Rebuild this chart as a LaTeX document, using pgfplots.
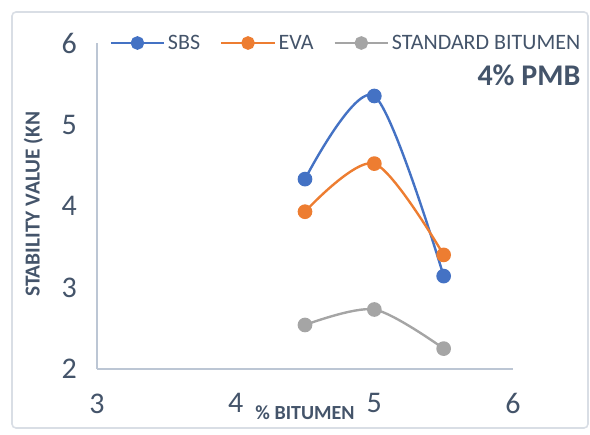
\documentclass[border=0pt]{standalone}
\usepackage{pgfplots}
\pgfplotsset{compat=1.18}
\usepackage{fontspec}
\setmainfont{Carlito}
\definecolor{sbs}{HTML}{4472C4}
\definecolor{eva}{HTML}{ED7D31}
\definecolor{std}{HTML}{A5A5A5}
\definecolor{txt}{HTML}{44546A}
\definecolor{axl}{HTML}{BCC6D4}
\definecolor{frm}{HTML}{D9DEE5}

\begin{document}
\begin{tikzpicture}[x=1pt,y=1pt]
% page = 590x435 px at 0.75pt/px; axis origin at px (97,369)
\useasboundingbox (-72.75,-49.5) rectangle (369.75,276.75);
\draw[frm, line width=1.2pt, rounded corners=3pt] (-63.75,-44.25) rectangle (368.25,267.75);
\begin{axis}[
  at={(0,0)}, anchor=origin,
  scale only axis, width=312pt, height=244.5pt,
  xmin=3, xmax=6, ymin=2, ymax=6,
  axis lines*=left, axis line style={axl, line width=1pt},
  separate axis lines, x axis line style={-}, y axis line style={-},
  xtick={3,4,5,6}, ytick={2,3,4,5,6},
  major tick length=0pt,
  tick label style={font=\fontsize{22.5}{24}\selectfont, text=txt},
  /pgf/number format/assume math mode=true,
  yticklabel style={xshift=-11.5pt},
  xticklabel style={yshift=-15pt},
  clip=false,
  legend columns=3,
  legend style={at={(axis cs:3.06,6)}, anchor=west, draw=none, fill=none,
    font=\fontsize{16.5}{18}\selectfont, text=txt,
    /tikz/every even column/.append style={column sep=13pt}},
  legend image code/.code={\draw[mark repeat=2,mark phase=2,mark size=4.2pt] plot coordinates {(0pt,0pt)(20pt,0pt)(40pt,0pt)};},
  every axis plot/.append style={line width=1.8pt, mark=*, mark size=4.6pt, smooth},
]
\addplot[sbs, mark options={fill=sbs, draw=sbs}] coordinates {(4.5,4.33) (5,5.35) (5.5,3.14)};
\addlegendentry{SBS}
\addplot[eva, mark options={fill=eva, draw=eva}] coordinates {(4.5,3.93) (5,4.52) (5.5,3.40)};
\addlegendentry{EVA}
\addplot[std, mark options={fill=std, draw=std}] coordinates {(4.5,2.54) (5,2.73) (5.5,2.25)};
\addlegendentry{STANDARD BITUMEN}
\node[anchor=east, text=txt, font=\fontsize{22.5}{24}\selectfont\bfseries] at (axis cs:6.52,5.6) {4\% PMB};
\node[rotate=90, text=txt, font=\fontsize{16}{17}\selectfont\bfseries] at (axis cs:2.54,4.02) {STABILITY VALUE (KN};
\node[anchor=base, text=txt, font=\fontsize{15}{16}\selectfont\bfseries] at (axis cs:4.5,1.38) {\% BITUMEN};
\end{axis}
\end{tikzpicture}
\end{document}
